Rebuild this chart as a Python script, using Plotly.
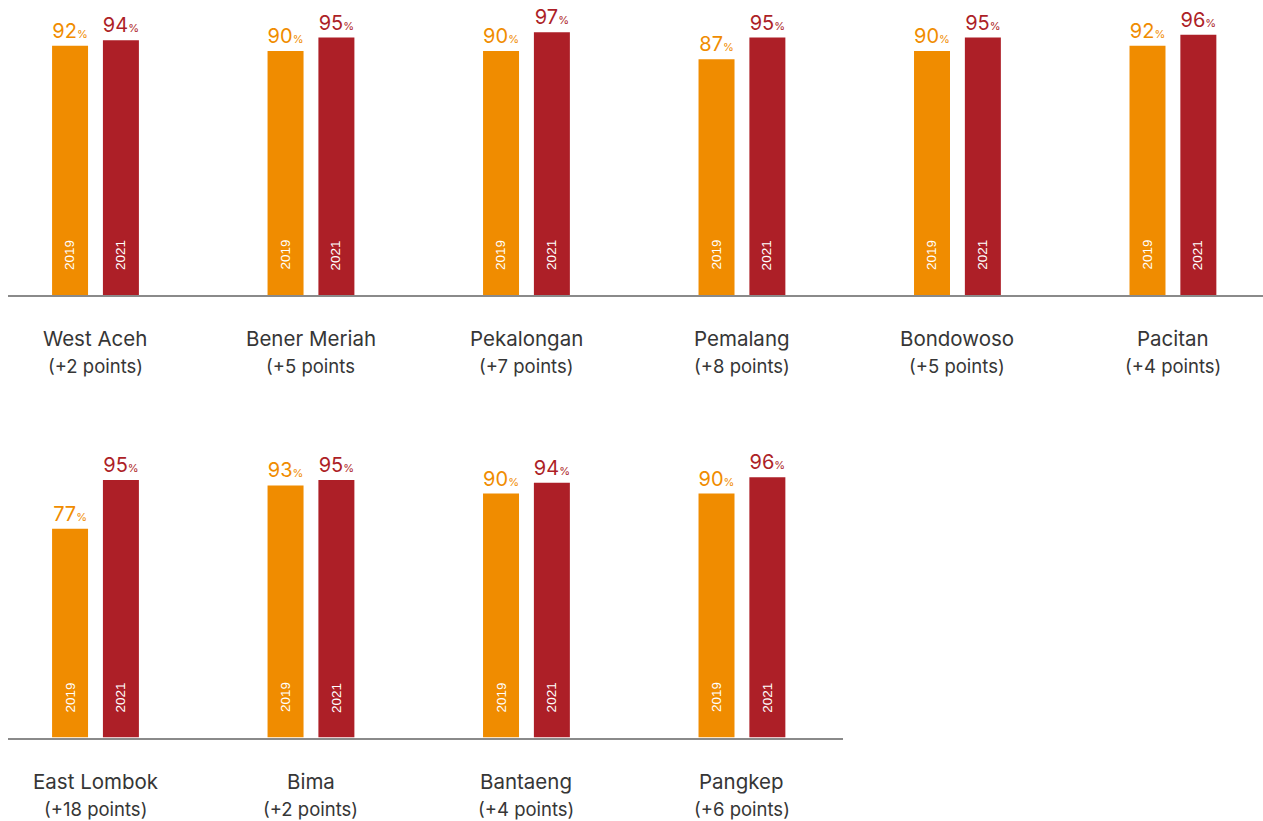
import plotly.graph_objects as go

# District coverage, 2019 vs 2021 (percent)
row1_names = ["West Aceh", "Bener Meriah", "Pekalongan", "Pemalang", "Bondowoso", "Pacitan"]
row1_2019 = [92, 90, 90, 87, 90, 92]
row1_2021 = [94, 95, 97, 95, 95, 96]
row1_notes = ["(+2 points)", "(+5 points", "(+7 points)", "(+8 points)", "(+5 points)", "(+4 points)"]

row2_names = ["East Lombok", "Bima", "Bantaeng", "Pangkep"]
row2_2019 = [77, 93, 90, 90]
row2_2021 = [95, 95, 94, 96]
row2_notes = ["(+18 points)", "(+2 points)", "(+4 points)", "(+6 points)"]

years = ["2019", "2021"]

ORANGE = "#F08C00"
RED = "#AD1F27"
TEXT = "#363636"
FONT = "Inter"

W, H = 1263, 821
OFF = 0.118     # half distance between paired bars (x units)
BW = 0.167      # bar width (x units)

fig = go.Figure()
annotations = []

rows = [
    ("x", "y", row1_names, row1_2019, row1_2021, row1_notes),
    ("x2", "y2", row2_names, row2_2019, row2_2021, row2_notes),
]

for xa, ya, names, v19, v21, notes in rows:
    idx = list(range(len(names)))
    for vals, color, sign, year in [(v19, ORANGE, -1, years[0]), (v21, RED, 1, years[1])]:
        xs = [i + sign * OFF for i in idx]
        fig.add_trace(go.Bar(
            x=xs, y=vals, width=BW, xaxis=xa, yaxis=ya,
            marker=dict(color=color, line=dict(width=0)),
            text=[f"{v}<span style='font-size:11px'>%</span>" for v in vals],
            textposition="outside", cliponaxis=False, constraintext="none",
            textfont=dict(family=FONT, size=20, color=color),
            showlegend=False, hoverinfo="skip",
        ))
        for x in xs:
            annotations.append(dict(
                x=x, y=0, xref=xa, yref=ya, text=year, textangle=-90,
                showarrow=False, yanchor="bottom", yshift=23,
                font=dict(family="Liberation Sans", size=13.5, color="white"),
            ))
    for i, name, note in zip(idx, names, notes):
        annotations.append(dict(
            x=i, y=0, xref=xa, yref=ya, text=name, showarrow=False,
            yanchor="middle", yshift=-44,
            font=dict(family=FONT, size=20.5, color=TEXT),
        ))
        annotations.append(dict(
            x=i, y=0, xref=xa, yref=ya, text=note, showarrow=False,
            yanchor="middle", yshift=-71,
            font=dict(family=FONT, size=18.5, color=TEXT),
        ))

left = 8 / W
axis_common = dict(showgrid=False, zeroline=False, showticklabels=False, ticks="",
                   showline=True, linecolor="#8a8a8a", linewidth=2, fixedrange=True)
yaxis_common = dict(showgrid=False, zeroline=False, showticklabels=False, ticks="",
                    showline=False, range=[0, 100], fixedrange=True)

fig.update_layout(
    width=W, height=H,
    margin=dict(l=0, r=0, t=0, b=0),
    paper_bgcolor="white", plot_bgcolor="white",
    barmode="overlay",
    xaxis=dict(domain=[left, 1], range=[-0.406, 5.418], anchor="y", **axis_common),
    yaxis=dict(domain=[(H - 295) / H, (H - 24) / H], anchor="x", **yaxis_common),
    xaxis2=dict(domain=[left, 843 / W], range=[-0.406, 3.469], anchor="y2", **axis_common),
    yaxis2=dict(domain=[(H - 737.5) / H, (H - 466.5) / H], anchor="x2", **yaxis_common),
    annotations=annotations,
)

fig.write_html("out.html")
